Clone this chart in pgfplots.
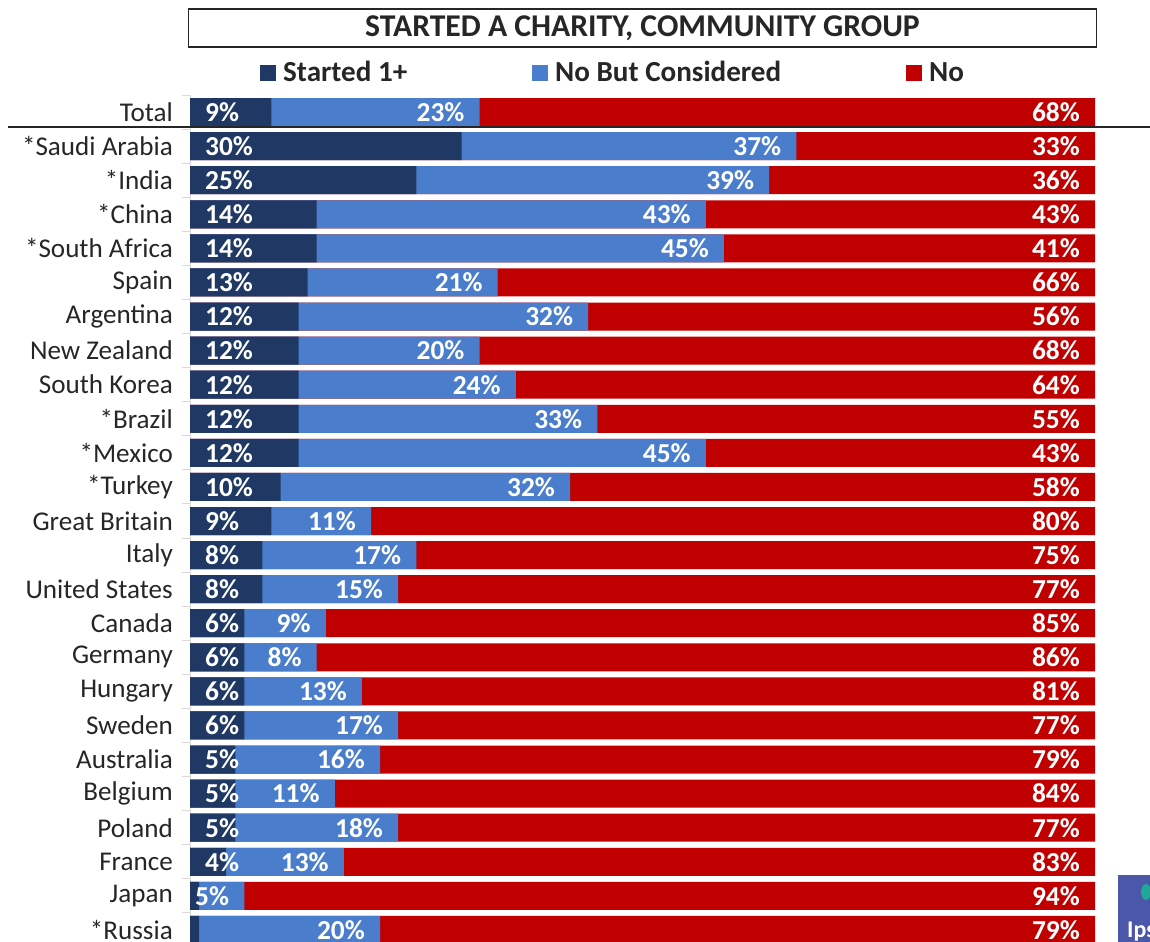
\documentclass[border=0pt]{standalone}
\usepackage{fontspec}
\setmainfont{Carlito}
\usepackage{pgfplots}
\pgfplotsset{compat=1.18}
\usepackage{pgfplotstable}
\definecolor{cDark}{HTML}{1F3864}
\definecolor{cMid}{HTML}{4A7ECD}
\definecolor{cRed}{HTML}{C00000}
\definecolor{cText}{HTML}{262626}
\definecolor{cLogo}{HTML}{4B57A8}
\definecolor{cTeal}{HTML}{1FA89A}
\pgfplotsset{sqlegend/.style={legend image code/.code={\fill[##1] (0bp,-8bp) rectangle (16bp,8bp);}}}

\pgfplotstableread[col sep=comma]{
idx,country,a,b,c
0,Total,9,23,68
1,*Saudi Arabia,30,37,33
2,*India,25,39,36
3,*China,14,43,43
4,*South Africa,14,45,41
5,Spain,13,21,66
6,Argentina,12,32,56
7,New Zealand,12,20,68
8,South Korea,12,24,64
9,*Brazil,12,33,55
10,*Mexico,12,45,43
11,*Turkey,10,32,58
12,Great Britain,9,11,80
13,Italy,8,17,75
14,United States,8,15,77
15,Canada,6,9,85
16,Germany,6,8,86
17,Hungary,6,13,81
18,Sweden,6,17,77
19,Australia,5,16,79
20,Belgium,5,11,84
21,Poland,5,18,77
22,France,4,13,83
23,Japan,1,5,94
24,*Russia,1,20,79
}\datatable

\begin{document}
\begin{tikzpicture}
\path[use as bounding box] (0,0) rectangle (1150bp,942bp);
\begin{axis}[
  at={(190bp,847bp)}, anchor=north west,
  scale only axis, width=905bp, height=852bp,
  xmin=0, xmax=100, ymin=-0.5, ymax=24.5, y dir=reverse,
  axis x line=none, axis y line*=left,
  y axis line style={draw=gray!30, line width=1bp},
  xtick=\empty,
  ytick={0,...,24},
  yticklabels from table={\datatable}{country},
  major tick length=0pt,
  minor ytick={-0.5,0.5,...,24.5},
  minor tick length=8bp, tick align=outside,
  minor tick style={draw=gray!30, line width=1bp},
  yticklabel style={font=\fontsize{27.2}{30}\selectfont, text=cText, anchor=east, inner sep=0pt, xshift=-17bp},
  bar width=28bp,
  clip=false,
  title={STARTED A CHARITY, COMMUNITY GROUP},
  title style={at={(axis description cs:0.5,1)}, anchor=center, yshift=61bp,
    draw=cText, line width=1.6bp, minimum width=908bp, minimum height=38.5bp, inner sep=0pt,
    font=\bfseries\fontsize{31.8}{34}\selectfont, text=cText},
  sqlegend,
  legend columns=3,
  legend cell align=left,
  legend style={at={(axis description cs:0.07735,1.0264)}, anchor=west, draw=none, fill=none,
    inner sep=0pt, font=\bfseries\fontsize{29.2}{32}\selectfont, text=cText,
    nodes={inner sep=0pt},
    /tikz/every odd column/.append style={column sep=7bp},
    /tikz/every even column/.append style={column sep=125bp}},
]
\addlegendimage{fill=cDark, draw=none}
\addlegendimage{fill=cMid, draw=none}
\addlegendimage{fill=cRed, draw=none}
\legend{Started 1+, No But Considered, No}

\addplot[xbar, bar shift=0pt, fill=cRed, draw=none, forget plot]
  table[x expr=\thisrow{a}+\thisrow{b}+\thisrow{c}, y=idx]{\datatable};
\addplot[xbar, bar shift=0pt, fill=cMid, draw=none, forget plot]
  table[x expr=\thisrow{a}+\thisrow{b}, y=idx]{\datatable};
\addplot[xbar, bar shift=0pt, fill=cDark, draw=none, forget plot]
  table[x=a, y=idx]{\datatable};

\addplot[draw=none, forget plot, point meta=explicit symbolic,
  nodes near coords={\pgfplotspointmeta\%},
  every node near coord/.append style={anchor=west, inner sep=0pt, xshift=15bp, text=white, font=\bfseries\fontsize{27.5}{29}\selectfont},
  restrict expr to domain={\thisrow{a}}{2:100}]
  table[x expr=0, y=idx, meta=a]{\datatable};
\addplot[draw=none, forget plot, point meta=explicit symbolic,
  nodes near coords={\pgfplotspointmeta\%},
  every node near coord/.append style={anchor=east, inner sep=0pt, xshift=-15bp, text=white, font=\bfseries\fontsize{27.5}{29}\selectfont}]
  table[x expr=\thisrow{a}+\thisrow{b}, y=idx, meta=b]{\datatable};
\addplot[draw=none, forget plot, point meta=explicit symbolic,
  nodes near coords={\pgfplotspointmeta\%},
  every node near coord/.append style={anchor=east, inner sep=0pt, xshift=-15bp, text=white, font=\bfseries\fontsize{27.5}{29}\selectfont}]
  table[x expr=\thisrow{a}+\thisrow{b}+\thisrow{c}, y=idx, meta=c]{\datatable};
\end{axis}
\draw[line width=2bp, color=black!85] (8bp,814.5bp) -- (1150bp,814.5bp);
\fill[cLogo] (1118bp,0bp) rectangle (1150bp,67bp);
\fill[cTeal] (1146bp,50bp) ellipse (5bp and 8bp);
\node[anchor=base west, inner sep=0pt, text=white, font=\bfseries\fontsize{24}{26}\selectfont] at (1127bp,5bp) {Ips};
\end{tikzpicture}
\end{document}
